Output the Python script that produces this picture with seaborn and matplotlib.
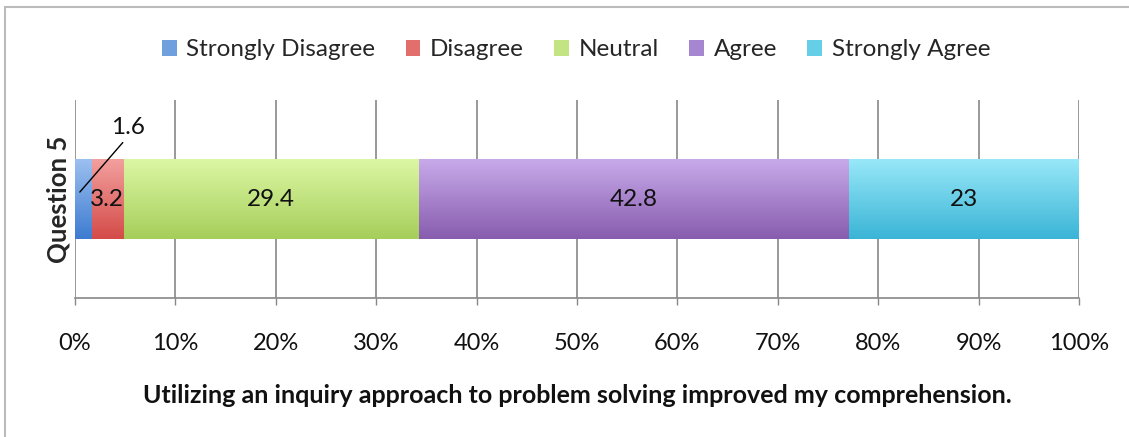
import matplotlib
matplotlib.use("Agg")
import matplotlib.pyplot as plt
from matplotlib.lines import Line2D
from matplotlib.colors import LinearSegmentedColormap
import seaborn as sns
import numpy as np
import pandas as pd

# ---- data ----
question = ["Question 5"]
categories = ["Strongly Disagree", "Disagree", "Neutral", "Agree", "Strongly Agree"]
values = [1.6, 3.2, 29.4, 42.8, 23.0]
value_labels = ["1.6", "3.2", "29.4", "42.8", "23"]
colors = ["#6f9fdc", "#e36f6d", "#c2e483", "#a686d0", "#66cfe8"]
top_colors = ["#9cc0f0", "#f2a09e", "#dcf7a4", "#c8aaea", "#98e8f8"]
bottom_colors = ["#3d7bd0", "#d44b48", "#a6ce5a", "#875cae", "#3ab4d6"]
xticks = [0, 10, 20, 30, 40, 50, 60, 70, 80, 90, 100]
xtick_labels = ["0%", "10%", "20%", "30%", "40%", "50%", "60%", "70%", "80%", "90%", "100%"]
xlabel = "Utilizing an inquiry approach to problem solving improved my comprehension."

sns.set_theme(style="white")
plt.rcParams["font.family"] = ["Lato", "DejaVu Sans"]

FS = 17.5

fig = plt.figure(figsize=(11.29, 4.37), dpi=100)
W, H = 1129, 437
ax = fig.add_axes([75 / W, 1 - 298 / H, (1079 - 75) / W, (298 - 100) / H])

cum = np.cumsum(values)
# draw cumulative bars from largest to smallest so they stack visually
bar_patches = {}
for i in reversed(range(len(categories))):
    df = pd.DataFrame({"q": question, "v": [cum[i]]})
    n_before = len(ax.patches)
    sns.barplot(data=df, x="v", y="q", orient="h", color=colors[i],
                width=0.4, ax=ax, zorder=3, saturation=1, label=categories[i],
                linewidth=0)
    bar_patches[i] = ax.patches[n_before:]
handles, labels = ax.get_legend_handles_labels()
if ax.get_legend() is not None:
    ax.get_legend().remove()

ax.set_xlim(0, 100)
ax.set_ylim(0.5, -0.5)

# vertical gradient fill on each segment (light top -> darker bottom)
for i in reversed(range(len(categories))):
    cmap = LinearSegmentedColormap.from_list(f"g{i}", [top_colors[i], bottom_colors[i]])
    for p in bar_patches[i]:
        x0, y0 = p.get_x(), p.get_y()
        w, h = p.get_width(), p.get_height()
        grad = np.linspace(0, 1, 256).reshape(-1, 1)
        im = ax.imshow(grad, cmap=cmap, aspect="auto",
                       extent=(x0, x0 + w, y0 + h, y0), origin="upper",
                       zorder=3 + (len(categories) - i) * 0.01, interpolation="bilinear")
        im.set_clip_path(p)
        p.set_zorder(3 + (len(categories) - i) * 0.01)
ax.set_xlim(0, 100)
ax.set_ylim(0.5, -0.5)

ax.set_xticks(xticks)
ax.set_xticklabels(xtick_labels, fontsize=FS - 0.5, color="#111111")
ax.set_xlabel(xlabel, fontsize=18, fontweight="bold", labelpad=22, color="#111111")
ax.set_ylabel("")
ax.set_yticks([0])
ax.set_yticklabels(question, rotation=90, va="center", fontsize=18.5, fontweight="bold")
ax.tick_params(axis="y", length=0, pad=3)
ax.tick_params(axis="x", length=5, width=1, color="#888888", direction="out", bottom=True, pad=20)

ax.grid(axis="x", color="#888888", linewidth=1.2, zorder=0)
ax.grid(axis="y", visible=False)
for s in ["top", "right", "left"]:
    ax.spines[s].set_visible(False)
ax.spines["bottom"].set_color("#888888")
ax.spines["bottom"].set_linewidth(1.2)

# data labels
starts = cum - np.array(values)
for i, (s, v, lab) in enumerate(zip(starts, values, value_labels)):
    if i == 0:
        ax.annotate(lab, xy=(s + v * 0.3, -0.035), xytext=(5.3, -0.36),
                    fontsize=FS, ha="center", va="center", color="#111111",
                    arrowprops=dict(arrowstyle="-", color="black", lw=1,
                                    shrinkA=1, shrinkB=0, relpos=(0.45, 0.0)),
                    zorder=5)
    else:
        ax.text(s + v / 2, 0.0, lab, ha="center", va="center", fontsize=FS,
                color="#111111", zorder=5)

# legend
order = [labels.index(c) for c in categories]
fig.legend([handles[k] for k in order], [labels[k] for k in order],
           loc="center", bbox_to_anchor=(576 / W, 1 - 50 / H), ncol=5,
           frameon=False, fontsize=FS, handlelength=0.6, handleheight=0.6,
           handletextpad=0.4, columnspacing=1.25)

# outer frame (top and left edges visible)
fig.add_artist(Line2D([5 / W, 1.0], [1 - 7 / H, 1 - 7 / H], color="#bbbbbb", lw=1.5,
                      transform=fig.transFigure))
fig.add_artist(Line2D([5 / W, 5 / W], [0.0, 1 - 7 / H], color="#bbbbbb", lw=1.5,
                      transform=fig.transFigure))

fig.savefig("out.png", dpi=100, facecolor="white")
